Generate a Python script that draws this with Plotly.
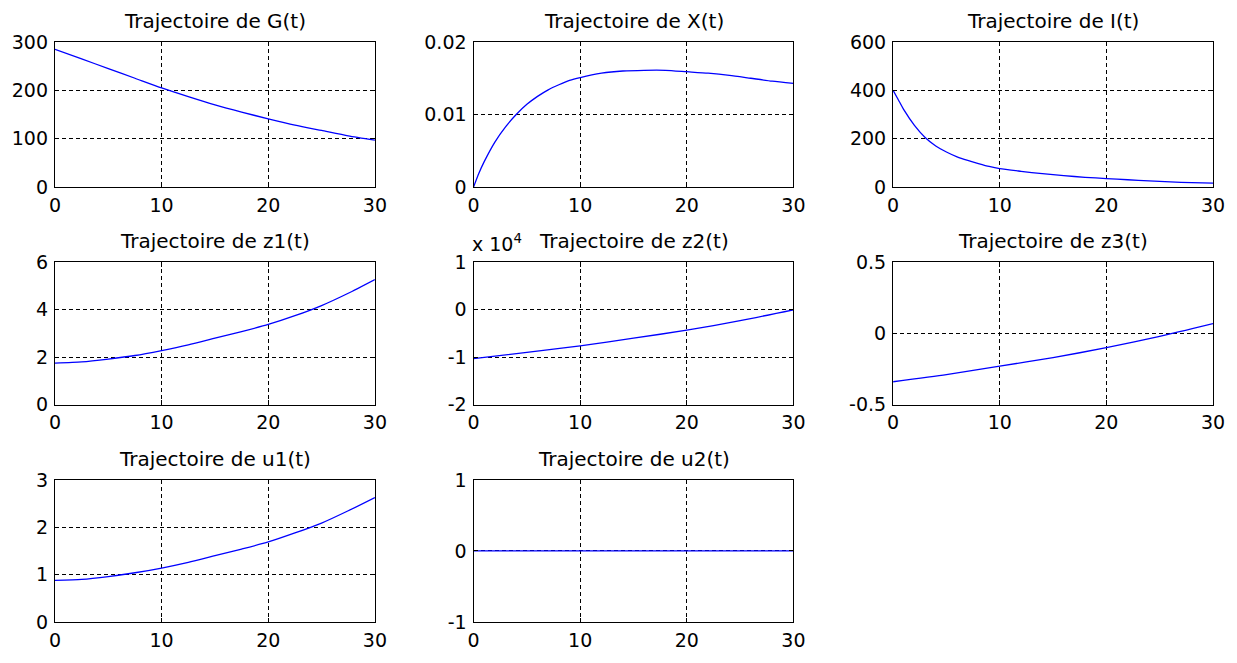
import plotly.graph_objects as go

# ---------------- data ----------------
t_G = [0, 2.5, 5, 7.5, 10, 12.5, 15, 17.5, 20, 22.5, 25, 27.5, 30]
G = [285, 265, 245, 225, 205, 187, 170, 155, 141, 128, 117, 106, 97]

t_X = [0, 0.5, 1, 2, 3, 4, 5, 6, 7, 8, 9, 10, 12, 14, 16, 18, 20, 22, 24, 26, 28, 30]
X = [0, 0.0019, 0.0035, 0.0062, 0.0083, 0.0100, 0.0114, 0.0125, 0.0134, 0.0141,
     0.0147, 0.0151, 0.0157, 0.0160, 0.0161, 0.0161, 0.0159, 0.0157, 0.0154,
     0.0150, 0.0146, 0.0143]

t_I = [0, 0.5, 1, 2, 3, 4, 5, 6, 7, 8, 9, 10, 12, 14, 16, 18, 20, 22, 24, 26, 28, 30]
I = [400, 360, 320, 255, 205, 170, 145, 125, 110, 97, 85, 76, 65, 55, 47, 40,
     35, 30, 25, 21, 18, 16]

t_z1 = [0, 2.5, 5, 7.5, 10, 12.5, 15, 17.5, 20, 22.5, 25, 27.5, 30]
z1 = [1.75, 1.80, 1.92, 2.07, 2.28, 2.52, 2.80, 3.08, 3.38, 3.75, 4.18, 4.70, 5.28]

t_z2 = [0, 5, 10, 15, 20, 25, 30]
z2_e4 = [-1.03, -0.90, -0.76, -0.60, -0.43, -0.23, 0.0]   # in units of 10^4

t_z3 = [0, 5, 10, 15, 20, 25, 30]
z3 = [-0.34, -0.29, -0.23, -0.17, -0.10, -0.02, 0.07]

t_u1 = [0, 2.5, 5, 7.5, 10, 12.5, 15, 17.5, 20, 22.5, 25, 27.5, 30]
u1 = [0.88, 0.90, 0.96, 1.04, 1.14, 1.26, 1.40, 1.54, 1.69, 1.88, 2.09, 2.35, 2.63]

t_u2 = [0, 30]
u2 = [0, 0]

titles = ["Trajectoire de G(t)", "Trajectoire de X(t)", "Trajectoire de I(t)",
          "Trajectoire de z1(t)", "Trajectoire de z2(t)", "Trajectoire de z3(t)",
          "Trajectoire de u1(t)", "Trajectoire de u2(t)"]

x_ticks = [0, 10, 20, 30]
y_ticks = [
    [0, 100, 200, 300],
    [0, 0.01, 0.02],
    [0, 200, 400, 600],
    [0, 2, 4, 6],
    [-2, -1, 0, 1],
    [-0.5, 0, 0.5],
    [0, 1, 2, 3],
    [-1, 0, 1],
]
y_ticktext = [
    ["0", "100", "200", "300"],
    ["0", "0.01", "0.02"],
    ["0", "200", "400", "600"],
    ["0", "2", "4", "6"],
    ["-2", "-1", "0", "1"],
    ["-0.5", "0", "0.5"],
    ["0", "1", "2", "3"],
    ["-1", "0", "1"],
]
y_ranges = [[0, 300], [0, 0.02], [0, 600], [0, 6], [-2, 1], [-0.5, 0.5], [0, 3], [-1, 1]]
exponent_label = "x 10<sup>4</sup>"

series = [(t_G, G), (t_X, X), (t_I, I), (t_z1, z1), (t_z2, z2_e4),
          (t_z3, z3), (t_u1, u1), (t_u2, u2)]

# ---------------- layout ----------------
W, H = 1237, 663
ml, mr, mt, mb = 55, 20, 42, 29
pw, ph = W - ml - mr, H - mt - mb

col_px = [(55, 376), (475, 796), (896, 1217)]
row_px = [(42, 190), (267, 412), (489, 634)]

def xdom(c):
    a, b = col_px[c]
    return [(a - ml) / pw, (b - ml) / pw]

def ydom(r):
    a, b = row_px[r]
    return [(H - mb - b) / ph, (H - mb - a) / ph]

FONT = "DejaVu Sans"
fig = go.Figure()
annotations = []

for i, ((tx, ty), title) in enumerate(zip(series, titles)):
    r, c = divmod(i, 3)
    n = "" if i == 0 else str(i + 1)
    fig.add_trace(go.Scatter(
        x=tx, y=ty, mode="lines",
        line=dict(color="#0000ff", width=1.3, shape="spline", smoothing=0.6),
        xaxis="x" + n, yaxis="y" + n, showlegend=False, hoverinfo="skip"))
    common = dict(showline=True, mirror="ticks", linecolor="black", linewidth=1.3,
                  ticks="inside", ticklen=4, tickcolor="black",
                  showgrid=True, gridcolor="black", gridwidth=1, griddash="4px,3px",
                  zeroline=False, tickfont=dict(family=FONT, size=19, color="black"))
    fig.update_layout(**{
        "xaxis" + n: dict(domain=xdom(c), anchor="y" + n, range=[0, 30],
                          tickmode="array", tickvals=x_ticks, ticklabelstandoff=1,
                          fixedrange=True, **common),
        "yaxis" + n: dict(domain=ydom(r), anchor="x" + n, range=y_ranges[i],
                          tickmode="array", tickvals=y_ticks[i], ticktext=y_ticktext[i],
                          ticklabelstandoff=2, fixedrange=True, **common),
    })
    xd, yd = xdom(c), ydom(r)
    annotations.append(dict(
        text=title, xref="paper", yref="paper", x=(xd[0] + xd[1]) / 2, y=yd[1],
        xanchor="center", yanchor="bottom", yshift=7, showarrow=False,
        font=dict(family=FONT, size=20, color="black")))
    if i == 4:
        annotations.append(dict(
            text=exponent_label, xref="paper", yref="paper", x=xd[0], y=yd[1],
            xanchor="left", yanchor="bottom", xshift=-4, yshift=5, showarrow=False,
            font=dict(family=FONT, size=19, color="black")))

fig.update_layout(
    width=W, height=H, margin=dict(l=ml, r=mr, t=mt, b=mb),
    paper_bgcolor="white", plot_bgcolor="white",
    annotations=annotations, showlegend=False,
)

fig.write_html("out.html", config={"displayModeBar": False})
